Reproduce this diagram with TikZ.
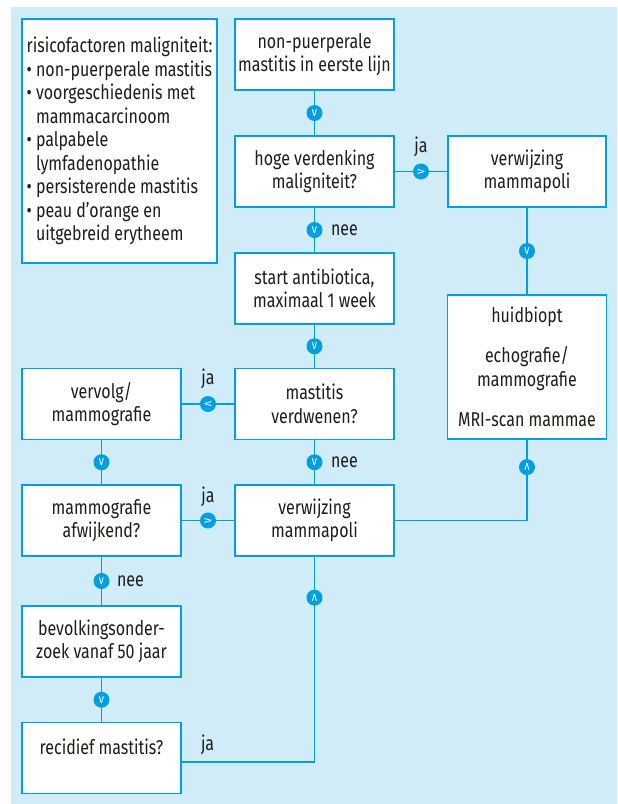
\documentclass[tikz,border=0pt]{standalone}
\usepackage{fontspec}
\setmainfont[FakeStretch=0.8]{Fira Sans}
\usepackage{xcolor}
\usepackage{tikz}
\usetikzlibrary{calc}
\definecolor{lijnblauw}{RGB}{0,159,227}
\definecolor{achtergrond}{RGB}{209,236,249}
\definecolor{tekst}{RGB}{29,29,27}

\begin{document}
\begin{tikzpicture}[-,x=1pt,y=-1pt,line width=1.2pt,
                    box node/.style={rectangle,draw=lijnblauw,fill=white,text=tekst,align=center,inner sep=0pt,minimum width=159pt,minimum height=71pt,font=\fontsize{20}{23.5}\selectfont},
                    dir node/.style={circle,fill=lijnblauw,text=white,inner sep=0pt,minimum size=16pt,font=\fontsize{13}{13}\selectfont},
                    label node/.style={text=tekst,inner sep=0pt,font=\fontsize{20}{23.5}\selectfont}]
\useasboundingbox (0,0) rectangle (618,804);
\fill[achtergrond] (11,7) rectangle (617,804);

\node[box node,align=left,minimum width=195pt,minimum height=244pt] (Risico) at (119.5,141) {risicofactoren maligniteit:\\
\textbullet\ non-puerperale mastitis\\
\textbullet\ voorgeschiedenis met\\
\hphantom{\textbullet\ }mammacarcinoom\\
\textbullet\ palpabele\\
\hphantom{\textbullet\ }lymfadenopathie\\
\textbullet\ persisterende mastitis\\
\textbullet\ peau d’orange en\\
\hphantom{\textbullet\ }uitgebreid erytheem};

\node[box node] (Eerstelijn) at (314.5,54.5) {non-puerperale\\mastitis in eerste lijn};
\node[box node] (Verdenking) at (314.5,171.5) {hoge verdenking\\maligniteit?};
\node[box node] (Antibiotica) at (314.5,288.5) {start antibiotica,\\maximaal 1 week};
\node[box node] (Verdwenen) at (314.5,404) {mastitis\\verdwenen?};
\node[box node] (Verwijzing) at (314.5,520.5) {verwijzing\\mammapoli};

\node[box node] (Vervolg) at (101.5,404) {vervolg/\\mammografie};
\node[box node] (Afwijkend) at (101.5,520.5) {mammografie\\afwijkend?};
\node[box node] (Bevolking) at (101.5,641.5) {bevolkingsonder-\\zoek vanaf 50 jaar};
\node[box node] (Recidief) at (101.5,758) {recidief mastitis?\\\phantom{x}};

\node[box node,minimum width=158pt] (Mammapoli) at (527,171.5) {verwijzing\\mammapoli};
\node[box node,minimum height=144pt] (Onderzoek) at (527,367) {huidbiopt\\[17pt]echografie/\\mammografie\\[17pt]MRI-scan mammae};

\draw[lijnblauw] (Eerstelijn) -- node[dir node] (PijlA) {v} (Verdenking);
\draw[lijnblauw] (Verdenking) -- node[dir node,rotate=90] (PijlJa1) {v} (Mammapoli);
\draw[lijnblauw] (Verdenking) -- node[dir node] (PijlNee1) {v} (Antibiotica);
\draw[lijnblauw] (Mammapoli) -- node[dir node] (PijlB) {v} (Onderzoek);
\draw[lijnblauw] (Antibiotica) -- node[dir node] (PijlC) {v} (Verdwenen);
\draw[lijnblauw] (Verdwenen) -- node[dir node,rotate=-90] (PijlJa2) {v} (Vervolg);
\draw[lijnblauw] (Verdwenen) -- node[dir node] (PijlNee2) {v} (Verwijzing);
\draw[lijnblauw] (Vervolg) -- node[dir node] (PijlD) {v} (Afwijkend);
\draw[lijnblauw] (Afwijkend) -- node[dir node,rotate=90] (PijlJa3) {v} (Verwijzing);
\draw[lijnblauw] (Afwijkend) -- node[dir node] (PijlNee3) {v} (Bevolking);
\draw[lijnblauw] (Bevolking) -- node[dir node] (PijlE) {v} (Recidief);
\draw[lijnblauw] ([yshift=-4pt]Recidief.east) -| node[dir node,rotate=180,pos=0.9] (PijlJa4) {v} (Verwijzing.south);
\draw[lijnblauw] (Verwijzing.east) -| node[dir node,rotate=180,pos=0.83] (PijlF) {v} (Onderzoek.south);

\node[label node] (JaLabel1) [shift={(0,-25)}] at (PijlJa1) {ja};
\node[label node] (NeeLabel1) [shift={(30,0)}] at (PijlNee1) {nee};
\node[label node] (JaLabel2) [shift={(0,-25)}] at (PijlJa2) {ja};
\node[label node] (NeeLabel2) [shift={(30,0)}] at (PijlNee2) {nee};
\node[label node] (JaLabel3) [shift={(0,-24)}] at (PijlJa3) {ja};
\node[label node] (NeeLabel3) [shift={(29,0)}] at (PijlNee3) {nee};
\node[label node] (JaLabel4) [shift={(26,-13)}] at (Recidief.east) {ja};

\end{tikzpicture}
\end{document}
